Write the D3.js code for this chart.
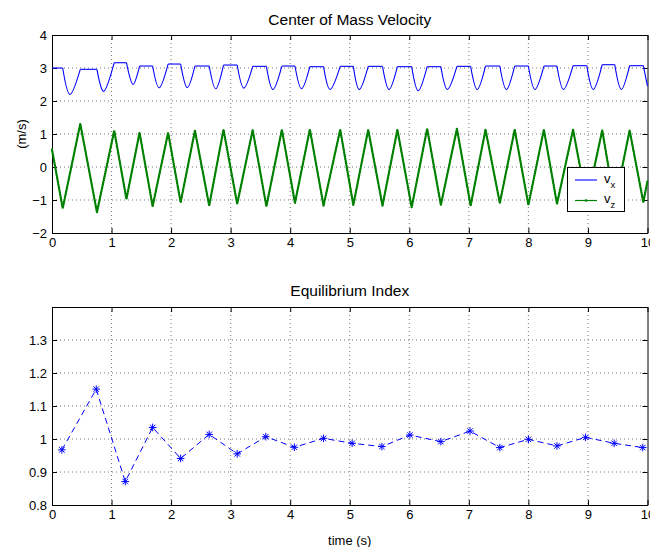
<!DOCTYPE html>
<html>
<head>
<meta charset="utf-8">
<script src="https://cdn.jsdelivr.net/npm/d3@7"></script>
<style>
  body { margin: 0; background: #fff; }
  text { font-family: "Liberation Sans", Arial, Helvetica, sans-serif; fill: #000; }
</style>
</head>
<body>
<div id="chart"></div>
<script>
// ---- data ----
const timeTicks = [0, 1, 2, 3, 4, 5, 6, 7, 8, 9, 10];
const velTicks = [-2, -1, 0, 1, 2, 3, 4];
const eqTicks = [0.8, 0.9, 1.0, 1.1, 1.2, 1.3];

// vertical velocity: corners of the saw-tooth (peaks = take-off, troughs = touch-down)
const vzTime = [0, 0.18, 0.475, 0.755, 1.045, 1.25, 1.47, 1.69, 1.95, 2.16, 2.40, 2.64, 2.88, 3.11,
  3.37, 3.60, 3.86, 4.08, 4.33, 4.56, 4.84, 5.06, 5.31, 5.55, 5.80, 6.04, 6.30, 6.53, 6.80, 7.03,
  7.28, 7.52, 7.77, 8.00, 8.26, 8.48, 8.75, 8.98, 9.24, 9.45, 9.70, 9.93, 10];
const vzValue = [0.53, -1.25, 1.31, -1.37, 1.10, -0.97, 1.04, -1.19, 1.04, -1.07, 1.10, -1.17, 1.13, -1.12,
  1.12, -1.19, 1.13, -1.09, 1.14, -1.17, 1.13, -1.15, 1.13, -1.17, 1.13, -1.22, 1.16, -1.15, 1.16, -1.17,
  1.13, -1.09, 1.13, -1.15, 1.13, -1.12, 1.13, -1.07, 1.11, -1.12, 1.11, -1.07, -0.42];

// horizontal velocity: flat in flight, dips during stance
const vxStart = 3.0;
const touchDown = [0.18, 0.755, 1.25, 1.69, 2.16, 2.64, 3.11, 3.60, 4.08, 4.56, 5.06, 5.55, 6.04, 6.53,
  7.03, 7.52, 8.00, 8.48, 8.98, 9.45, 9.93];
const dipTime = [0.30, 0.87, 1.36, 1.80, 2.27, 2.75, 3.22, 3.71, 4.19, 4.67, 5.16, 5.66, 6.15, 6.64,
  7.14, 7.63, 8.11, 8.59, 9.09, 9.56];
const dipValue = [2.20, 2.29, 2.50, 2.40, 2.41, 2.37, 2.39, 2.35, 2.37, 2.35, 2.35, 2.35, 2.31, 2.35,
  2.35, 2.35, 2.35, 2.35, 2.35, 2.35];
const takeOff = [0.475, 1.045, 1.47, 1.95, 2.40, 2.88, 3.37, 3.86, 4.33, 4.84, 5.31, 5.80, 6.30, 6.80,
  7.28, 7.77, 8.26, 8.75, 9.24, 9.70];
const flightLevel = [2.96, 3.16, 3.06, 3.12, 3.06, 3.09, 3.05, 3.06, 3.04, 3.05, 3.05, 3.04, 3.04, 3.05,
  3.06, 3.06, 3.06, 3.07, 3.10, 3.07];
const vxEnd = 2.45;

// equilibrium index, one per touch-down
const eqTime = [0.166, 0.743, 1.23, 1.69, 2.16, 2.64, 3.11, 3.59, 4.07, 4.56, 5.04, 5.54, 6.01, 6.53,
  7.02, 7.52, 8.00, 8.48, 8.96, 9.44, 9.92];
const eqValue = [0.967, 1.151, 0.871, 1.035, 0.941, 1.014, 0.955, 1.007, 0.975, 1.002, 0.987, 0.977,
  1.012, 0.992, 1.024, 0.974, 0.999, 0.979, 1.005, 0.987, 0.974];

// ---- layout ----
const width = 650, height = 547;
const left = 52, right = 647.5;
const top1 = 35, bottom1 = 233;
const top2 = 307, bottom2 = 505;

const svg = d3.select('#chart').append('svg')
    .attr('width', width)
    .attr('height', height);

const x = d3.scaleLinear().domain([0, 10]).range([left, right]);
const y1 = d3.scaleLinear().domain([-2, 4]).range([bottom1, top1]);
const y2 = d3.scaleLinear().domain([0.8, 1.4]).range([bottom2, top2]);

const fmt = d => String(d).replace('-', '\u2212');

// Draws the grid, box and ticks of one axes pair
function drawFrame(y, yTicks, yTop, yBottom, yFormat) {
    const g = svg.append('g');

    // dotted grid
    g.selectAll('line.gx')
        .data(timeTicks.filter(t => t > 0 && t < 10))
        .enter().append('line')
        .attr('x1', d => x(d)).attr('x2', d => x(d))
        .attr('y1', yTop).attr('y2', yBottom)
        .attr('stroke', '#555').attr('stroke-width', 0.8)
        .attr('stroke-dasharray', '1,3');
    g.selectAll('line.gy')
        .data(yTicks.filter(v => y(v) > yTop + 1 && y(v) < yBottom - 1))
        .enter().append('line')
        .attr('x1', left).attr('x2', right)
        .attr('y1', d => y(d)).attr('y2', d => y(d))
        .attr('stroke', '#555').attr('stroke-width', 0.8)
        .attr('stroke-dasharray', '1,3');

    const style = sel => {
        sel.selectAll('path, line').attr('stroke', '#000').attr('stroke-width', 1);
        sel.selectAll('text').attr('font-size', 13).attr('fill', '#000')
            .attr('font-family', '"Liberation Sans", Arial, sans-serif');
    };

    g.append('g').attr('transform', `translate(0,${yBottom})`)
        .call(d3.axisBottom(x).tickValues(timeTicks).tickSize(-5).tickSizeOuter(0).tickPadding(5).tickFormat(fmt))
        .call(style);
    g.append('g').attr('transform', `translate(0,${yTop})`)
        .call(d3.axisTop(x).tickValues(timeTicks).tickSize(-5).tickSizeOuter(0).tickFormat(''))
        .call(style);
    g.append('g').attr('transform', `translate(${left},0)`)
        .call(d3.axisLeft(y).tickValues(yTicks).tickSize(-5).tickSizeOuter(0).tickPadding(5).tickFormat(yFormat))
        .call(style);
    g.append('g').attr('transform', `translate(${right},0)`)
        .call(d3.axisRight(y).tickValues(yTicks).tickSize(-5).tickSizeOuter(0).tickFormat(''))
        .call(style);
    g.selectAll('.domain').attr('fill', 'none');
}

drawFrame(y1, velTicks, top1, bottom1, fmt);
drawFrame(y2, eqTicks, top2, bottom2, d => (d === 1 ? '1' : d3.format('.1f')(d)));

// ---- top plot: velocities ----
const line1 = d3.line().x(d => x(d[0])).y(d => y1(d[1]));
const dipLine = d3.line().x(d => x(d[0])).y(d => y1(d[1])).curve(d3.curveCardinal);

// vx pieces
const vxPieces = [];
vxPieces.push({ curve: false, pts: [[0, vxStart], [touchDown[0], vxStart]] });
let level = vxStart;
dipTime.forEach((t, i) => {
    vxPieces.push({ curve: true, pts: [[touchDown[i], level], [t, dipValue[i]], [takeOff[i], flightLevel[i]]] });
    level = flightLevel[i];
    vxPieces.push({ curve: false, pts: [[takeOff[i], level], [touchDown[i + 1], level]] });
});
vxPieces.push({ curve: false, pts: [[touchDown[touchDown.length - 1], level], [10, vxEnd]] });

svg.append('g').selectAll('path')
    .data(vxPieces)
    .enter().append('path')
    .attr('d', d => (d.curve ? dipLine : line1)(d.pts))
    .attr('fill', 'none')
    .attr('stroke', '#0000ff')
    .attr('stroke-width', 1.1)
    .attr('stroke-linejoin', 'round');

// vz: line with dense dot markers
const vzPts = vzTime.map((t, i) => [t, vzValue[i]]);
svg.append('path')
    .attr('d', line1(vzPts))
    .attr('fill', 'none')
    .attr('stroke', '#008000')
    .attr('stroke-width', 1.1);
svg.append('path')
    .attr('d', line1(vzPts))
    .attr('fill', 'none')
    .attr('stroke', '#008000')
    .attr('stroke-width', 2.3)
    .attr('stroke-linecap', 'round')
    .attr('stroke-dasharray', '0.4,1.8');

// legend
const lg = svg.append('g');
lg.append('rect')
    .attr('x', 567.5).attr('y', 167.5).attr('width', 57).attr('height', 44)
    .attr('fill', '#fff').attr('stroke', '#000').attr('stroke-width', 1);
const legendItems = [
    { name: 'x', color: '#0000ff', y: 180 },
    { name: 'z', color: '#008000', y: 200.5 }
];
legendItems.forEach(item => {
    lg.append('line')
        .attr('x1', 575).attr('x2', 597).attr('y1', item.y).attr('y2', item.y)
        .attr('stroke', item.color).attr('stroke-width', item.name === 'x' ? 1.1 : 1.2);
    if (item.name === 'z') {
        lg.append('circle').attr('cx', 586).attr('cy', item.y).attr('r', 1.3).attr('fill', item.color);
    }
    const t = lg.append('text').attr('x', 604).attr('y', item.y + 2.5).attr('font-size', 13);
    t.append('tspan').text('v');
    t.append('tspan').attr('font-size', 9.5).attr('dy', 5).text(item.name);
});

// ---- bottom plot: equilibrium index ----
const line2 = d3.line().x(d => x(d[0])).y(d => y2(d[1]));
const eqPts = eqTime.map((t, i) => [t, eqValue[i]]);
svg.append('path')
    .attr('d', line2(eqPts))
    .attr('fill', 'none')
    .attr('stroke', '#0000ff')
    .attr('stroke-width', 1)
    .attr('stroke-dasharray', '6,4');

// asterisk markers
const r = 3.8, rd = r * 0.72;
const star = `M${-r},0L${r},0M0,${-r}L0,${r}M${-rd},${-rd}L${rd},${rd}M${-rd},${rd}L${rd},${-rd}`;
svg.append('g').selectAll('path')
    .data(eqPts)
    .enter().append('path')
    .attr('transform', d => `translate(${x(d[0])},${y2(d[1])})`)
    .attr('d', star)
    .attr('fill', 'none')
    .attr('stroke', '#0000ff')
    .attr('stroke-width', 1);

// ---- titles and labels ----
const cx = (left + right) / 2;
svg.append('text').attr('x', cx).attr('y', 24.5).attr('text-anchor', 'middle')
    .attr('font-size', 15.5).text('Center of Mass Velocity');
svg.append('text').attr('x', cx).attr('y', 296).attr('text-anchor', 'middle')
    .attr('font-size', 15.5).text('Equilibrium Index');
svg.append('text').attr('x', cx).attr('y', 545).attr('text-anchor', 'middle')
    .attr('font-size', 13).text('time (s)');
svg.append('text')
    .attr('transform', `translate(26,${(top1 + bottom1) / 2}) rotate(-90)`)
    .attr('text-anchor', 'middle')
    .attr('font-size', 13).text('(m/s)');
</script>
</body>
</html>
